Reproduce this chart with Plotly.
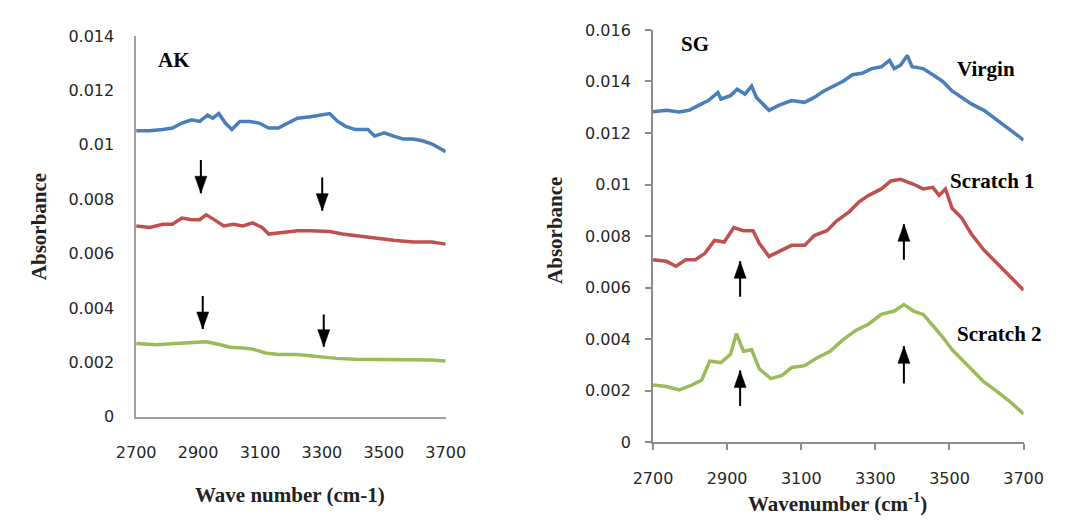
import plotly.graph_objects as go

# ---------------- data ----------------
# AK panel
ak_virgin_x = [2700, 2744, 2786, 2817, 2848, 2879, 2905, 2931, 2947, 2967, 2988, 3009, 3035, 3066, 3097,
               3128, 3159, 3190, 3221, 3263, 3294, 3325, 3351, 3377, 3408, 3449, 3470, 3501, 3532, 3563,
               3594, 3625, 3656, 3700]
ak_virgin_y = [0.01052, 0.01052, 0.01056, 0.01062, 0.01080, 0.01092, 0.01086, 0.01109, 0.01098, 0.01115,
               0.01080, 0.01056, 0.01086, 0.01086, 0.01080, 0.01062, 0.01062, 0.01080, 0.01098, 0.01103,
               0.01109, 0.01115, 0.01086, 0.01068, 0.01056, 0.01056, 0.01032, 0.01044, 0.01032, 0.01021,
               0.01021, 0.01015, 0.01003, 0.00975]
ak_s1_x = [2700, 2744, 2786, 2817, 2848, 2879, 2905, 2926, 2952, 2983, 3014, 3045, 3076, 3107, 3128,
           3169, 3221, 3263, 3325, 3366, 3408, 3470, 3532, 3594, 3656, 3700]
ak_s1_y = [0.00702, 0.00696, 0.00708, 0.00708, 0.00731, 0.00725, 0.00725, 0.00743, 0.00725, 0.00702,
           0.00708, 0.00702, 0.00713, 0.00696, 0.00672, 0.00678, 0.00684, 0.00684, 0.00681, 0.00672,
           0.00666, 0.00658, 0.00649, 0.00643, 0.00643, 0.00635]
ak_s2_x = [2700, 2765, 2827, 2890, 2926, 2962, 3004, 3045, 3076, 3118, 3159, 3221, 3283, 3346, 3408,
           3470, 3532, 3594, 3656, 3700]
ak_s2_y = [0.00270, 0.00265, 0.00270, 0.00273, 0.00276, 0.00268, 0.00256, 0.00253, 0.00249, 0.00235,
           0.00229, 0.00229, 0.00221, 0.00215, 0.00212, 0.00212, 0.00209, 0.00209, 0.00209, 0.00205]

# SG panel
sg_virgin_x = [2700, 2736, 2771, 2797, 2823, 2849, 2875, 2883, 2909, 2927, 2948, 2966, 2979, 2996, 3013,
               3039, 3074, 3109, 3135, 3161, 3187, 3213, 3238, 3264, 3290, 3316, 3338, 3351, 3368, 3386,
               3399, 3429, 3455, 3481, 3507, 3533, 3559, 3593, 3628, 3654, 3680, 3700]
sg_virgin_y = [0.01282, 0.01288, 0.01282, 0.01288, 0.01307, 0.01326, 0.01357, 0.01332, 0.01345, 0.01370,
               0.01351, 0.01382, 0.01338, 0.01313, 0.01288, 0.01307, 0.01326, 0.01319, 0.01338, 0.01363,
               0.01382, 0.01401, 0.01426, 0.01432, 0.01450, 0.01457, 0.01482, 0.01450, 0.01463, 0.01501,
               0.01457, 0.01450, 0.01426, 0.01401, 0.01363, 0.01338, 0.01313, 0.01288, 0.01251, 0.01226,
               0.01195, 0.01172]
sg_s1_x = [2700, 2736, 2762, 2788, 2814, 2840, 2866, 2892, 2918, 2944, 2970, 2987, 3013, 3039, 3074,
           3109, 3135, 3169, 3195, 3230, 3256, 3282, 3316, 3342, 3368, 3403, 3429, 3455, 3472, 3489,
           3507, 3533, 3559, 3593, 3619, 3645, 3671, 3700]
sg_s1_y = [0.00708, 0.00702, 0.00683, 0.00708, 0.00708, 0.00733, 0.00783, 0.00777, 0.00833, 0.00821,
           0.00821, 0.00771, 0.00721, 0.00739, 0.00764, 0.00764, 0.00802, 0.00821, 0.00858, 0.00895,
           0.00933, 0.00958, 0.00983, 0.01014, 0.01020, 0.01001, 0.00983, 0.00989, 0.00958, 0.00983,
           0.00908, 0.00870, 0.00808, 0.00746, 0.00708, 0.00671, 0.00634, 0.00590]
sg_s2_x = [2700, 2736, 2771, 2805, 2831, 2853, 2883, 2909, 2925, 2944, 2966, 2987, 3018, 3048, 3074,
           3109, 3143, 3178, 3212, 3247, 3282, 3316, 3351, 3377, 3403, 3429, 3455, 3481, 3507, 3533,
           3559, 3593, 3628, 3662, 3700]
sg_s2_y = [0.00222, 0.00216, 0.00203, 0.00222, 0.00241, 0.00315, 0.00309, 0.00341, 0.00421, 0.00353,
           0.00359, 0.00284, 0.00247, 0.00259, 0.00290, 0.00297, 0.00328, 0.00353, 0.00397, 0.00434,
           0.00459, 0.00496, 0.00509, 0.00534, 0.00509, 0.00496, 0.00453, 0.00409, 0.00359, 0.00322,
           0.00284, 0.00234, 0.00197, 0.00159, 0.00110]

# arrows: x, tail y, head (tip) y
ak_arrow_x = [2909, 3301, 2915, 3306]
ak_arrow_tail = [0.00944, 0.00880, 0.00444, 0.00376]
ak_arrow_head = [0.00822, 0.00758, 0.00323, 0.00258]
sg_arrow_x = [2935, 3377, 2935, 3377]
sg_arrow_tail = [0.00565, 0.00708, 0.00141, 0.00228]
sg_arrow_head = [0.00702, 0.00846, 0.00278, 0.00372]

series_names = ["Virgin", "Scratch 1", "Scratch 2"]
colors = ["#4A7EBB", "#C0504D", "#9BBB59"]
ak_label_x = [3702, 3715, 3702]
ak_label_y = [0.01099, 0.00734, 0.00291]
sg_label_x = [3599, 3615, 3636]
sg_label_y = [0.01449, 0.01015, 0.00421]

x_ticks = [2700, 2900, 3100, 3300, 3500, 3700]
ak_y_ticks = [0, 0.002, 0.004, 0.006, 0.008, 0.01, 0.012, 0.014]
sg_y_ticks = [0, 0.002, 0.004, 0.006, 0.008, 0.01, 0.012, 0.014, 0.016]
ak_y_text = ["0", "0.002", "0.004", "0.006", "0.008", "0.01", "0.012", "0.014"]
sg_y_text = ["0", "0.002", "0.004", "0.006", "0.008", "0.01", "0.012", "0.014", "0.016"]

W, H = 1067, 531
fig = go.Figure()

ak_data = [(ak_virgin_x, ak_virgin_y), (ak_s1_x, ak_s1_y), (ak_s2_x, ak_s2_y)]
sg_data = [(sg_virgin_x, sg_virgin_y), (sg_s1_x, sg_s1_y), (sg_s2_x, sg_s2_y)]
for (xs, ys), name, c in zip(ak_data, series_names, colors):
    fig.add_trace(go.Scatter(x=xs, y=ys, mode="lines", name=name, line=dict(color=c, width=3.5),
                             xaxis="x", yaxis="y", showlegend=False))
for (xs, ys), name, c in zip(sg_data, series_names, colors):
    fig.add_trace(go.Scatter(x=xs, y=ys, mode="lines", name=name, line=dict(color=c, width=3.5),
                             xaxis="x2", yaxis="y2", showlegend=False))
# empty trace so the label-only overlay axes of the SG panel are drawn
fig.add_trace(go.Scatter(x=[], y=[], mode="lines", xaxis="x3", yaxis="y3", showlegend=False,
                         hoverinfo="skip"))

tickfont = dict(family="DejaVu Sans", size=16, color="#262626")
lab_font = dict(family="Liberation Serif", size=21, color="black")

ann = []
shapes = []
for lx, ly, name in zip(ak_label_x, ak_label_y, series_names):
    ann.append(dict(x=lx, y=ly, xref="x", yref="y", text="<b>%s</b>" % name, showarrow=False,
                    font=lab_font, xanchor="center", yanchor="middle"))
for lx, ly, name in zip(sg_label_x, sg_label_y, series_names):
    ann.append(dict(x=lx, y=ly, xref="x2", yref="y2", text="<b>%s</b>" % name, showarrow=False,
                    font=lab_font, xanchor="center", yanchor="middle"))
ann.append(dict(x=2822, y=0.01311, xref="x", yref="y", text="<b>AK</b>", showarrow=False,
                font=lab_font, xanchor="center", yanchor="middle"))
ann.append(dict(x=2812, y=0.01547, xref="x2", yref="y2", text="<b>SG</b>", showarrow=False,
                font=lab_font, xanchor="center", yanchor="middle"))

HEAD_LEN, HEAD_HALF = 17, 6
def add_arrows(xs, tails, heads, xr, yr):
    for ax_, t, h in zip(xs, tails, heads):
        shapes.append(dict(type="line", xref=xr, yref=yr, x0=ax_, x1=ax_, y0=t, y1=h,
                           line=dict(color="black", width=2)))
        d = HEAD_LEN if t > h else -HEAD_LEN
        shapes.append(dict(type="path", xref=xr, yref=yr, xsizemode="pixel", ysizemode="pixel",
                           xanchor=ax_, yanchor=h,
                           path="M%d,%d L%d,%d L0,0 Z" % (-HEAD_HALF, d, HEAD_HALF, d),
                           fillcolor="black", line=dict(color="black", width=0.5)))
add_arrows(ak_arrow_x, ak_arrow_tail, ak_arrow_head, "x", "y")
add_arrows(sg_arrow_x, sg_arrow_tail, sg_arrow_head, "x2", "y2")

title_font = dict(family="Liberation Serif", size=21, color="#222222")
ann.append(dict(x=281 / W, y=1 - 504 / H, xref="paper", yref="paper", text="<b>Wave number (cm-1)</b>",
                showarrow=False, font=title_font, xanchor="center", yanchor="middle"))
ann.append(dict(x=849 / W, y=1 - 512 / H, xref="paper", yref="paper",
                text="<b>Wavenumber (cm<sup>-1</sup>)</b>",
                showarrow=False, font=title_font, xanchor="center", yanchor="middle"))
ann.append(dict(x=20 / W, y=1 - 226 / H, xref="paper", yref="paper", text="<b>Absorbance</b>",
                showarrow=False, font=title_font, textangle=-90, xanchor="center", yanchor="middle"))
ann.append(dict(x=556 / W, y=1 - 230 / H, xref="paper", yref="paper", text="<b>Absorbance</b>",
                showarrow=False, font=title_font, textangle=-90, xanchor="center", yanchor="middle"))

ak_xdom = [120.7 / W, 442.3 / W]
ak_ydom = [1 - 423 / H, 1 - 28 / H]
sg_xdom = [657.7 / W, 1042.7 / W]
sg_ydom = [1 - 449.3 / H, 1 - 21.7 / H]
clear = "rgba(0,0,0,0)"

fig.update_layout(
    width=W, height=H, margin=dict(l=0, r=0, t=0, b=0),
    paper_bgcolor="white", plot_bgcolor="white",
    annotations=ann, shapes=shapes,
    xaxis=dict(domain=ak_xdom, range=[2700, 3700], tickvals=x_ticks,
               showline=True, linecolor="#A0A0A0", linewidth=1.5, showgrid=False, zeroline=False,
               ticks="outside", ticklen=20, tickcolor=clear, tickfont=tickfont, anchor="y"),
    yaxis=dict(domain=ak_ydom, range=[0, 0.014], tickvals=ak_y_ticks, ticktext=ak_y_text,
               showline=True, linecolor="#A0A0A0", linewidth=1.5, showgrid=False, zeroline=False,
               ticks="outside", ticklen=17, tickcolor=clear, tickfont=tickfont, anchor="x"),
    xaxis2=dict(domain=sg_xdom, range=[2700, 3700], tickvals=x_ticks, showticklabels=False,
                showline=True, linecolor="#8C8C8C", linewidth=1.5, showgrid=False, zeroline=False,
                ticks="outside", ticklen=6, tickwidth=1.5, tickcolor="#8C8C8C", anchor="y2"),
    yaxis2=dict(domain=sg_ydom, range=[0, 0.016], tickvals=sg_y_ticks, showticklabels=False,
                showline=True, linecolor="#8C8C8C", linewidth=1.5, showgrid=False, zeroline=False,
                ticks="outside", ticklen=6, tickwidth=1.5, tickcolor="#8C8C8C", anchor="x2"),
    xaxis3=dict(domain=sg_xdom, range=[2700, 3700], tickvals=x_ticks, overlaying="x2", side="bottom",
                showline=False, showgrid=False, zeroline=False,
                ticks="outside", ticklen=22, tickcolor=clear, tickfont=tickfont, anchor="y3"),
    yaxis3=dict(domain=sg_ydom, range=[0, 0.016], tickvals=sg_y_ticks, ticktext=sg_y_text,
                overlaying="y2", side="left",
                showline=False, showgrid=False, zeroline=False,
                ticks="outside", ticklen=18, tickcolor=clear, tickfont=tickfont, anchor="x3"),
)

fig.write_html("out.html")
